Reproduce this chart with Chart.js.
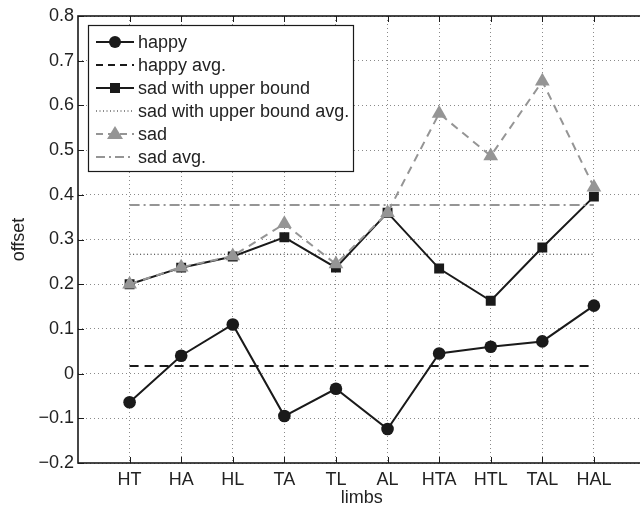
<!DOCTYPE html>
<html>
<head>
<meta charset="utf-8">
<script src="https://cdn.jsdelivr.net/npm/chart.js@4.4.1/dist/chart.umd.min.js"></script>
<style>
  html, body { margin: 0; padding: 0; background: #fff; overflow: hidden; width: 640px; height: 507px; }
  canvas { display: block; }
</style>
</head>
<body>
<canvas id="chart" width="660" height="507"></canvas>
<script>
// categories (x axis)
const limbs = ['HT', 'HA', 'HL', 'TA', 'TL', 'AL', 'HTA', 'HTL', 'TAL', 'HAL'];

// series
const happy = [-0.064, 0.040, 0.110, -0.095, -0.034, -0.124, 0.045, 0.060, 0.072, 0.152];
const sadUpper = [0.200, 0.237, 0.262, 0.305, 0.237, 0.360, 0.235, 0.163, 0.282, 0.396];
const sad = [0.200, 0.238, 0.263, 0.335, 0.245, 0.360, 0.582, 0.487, 0.654, 0.417];

// horizontal average lines
const happyAvg = 0.017;
const sadUpperAvg = 0.267;
const sadAvg = 0.377;

// y ticks
const yTicks = [-0.2, -0.1, 0, 0.1, 0.2, 0.3, 0.4, 0.5, 0.6, 0.7, 0.8];

const GRAY = '#959595';
const BLACK = '#1a1a1a';

const toPoints = arr => arr.map((v, i) => ({ x: i + 1, y: v }));
const avgLine = v => [{ x: 1, y: v }, { x: limbs.length, y: v }];

// legend entries (drawn by plugin below)
const legendItems = [
    { text: 'happy', color: BLACK, dash: [], width: 2, marker: 'circle' },
    { text: 'happy avg.', color: BLACK, dash: [7, 5], width: 2, marker: null },
    { text: 'sad with upper bound', color: BLACK, dash: [], width: 2, marker: 'rect' },
    { text: 'sad with upper bound avg.', color: BLACK, dash: [1, 2.5], width: 1, marker: null },
    { text: 'sad', color: GRAY, dash: [7, 5], width: 2, marker: 'triangle' },
    { text: 'sad avg.', color: GRAY, dash: [9, 4, 2, 4], width: 2, marker: null }
];

const fontFamily = '"Liberation Sans", Arial, Helvetica, sans-serif';
Chart.defaults.font.family = fontFamily;
Chart.defaults.font.size = 18;
Chart.defaults.color = '#222';

const framePlugin = {
    id: 'frame',
    afterDraw(chart) {
        const { ctx, chartArea: a, scales } = chart;
        ctx.save();
        // axis box
        ctx.strokeStyle = BLACK;
        ctx.lineWidth = 1.6;
        ctx.setLineDash([]);
        ctx.strokeRect(a.left, a.top, a.right - a.left, a.bottom - a.top);
        // inward ticks
        ctx.lineWidth = 1;
        for (let i = 1; i <= limbs.length; i++) {
            const x = Math.round(scales.x.getPixelForValue(i)) + 0.5;
            ctx.beginPath();
            ctx.moveTo(x, a.bottom); ctx.lineTo(x, a.bottom - 6);
            ctx.moveTo(x, a.top); ctx.lineTo(x, a.top + 6);
            ctx.stroke();
        }
        yTicks.forEach(v => {
            const y = Math.round(scales.y.getPixelForValue(v)) + 0.5;
            ctx.beginPath();
            ctx.moveTo(a.left, y); ctx.lineTo(a.left + 6, y);
            ctx.stroke();
        });

        // legend box
        const bx = 88, by = 25, bw = 265, bh = 146;
        ctx.fillStyle = '#fff';
        ctx.fillRect(bx, by, bw, bh);
        ctx.strokeStyle = BLACK;
        ctx.lineWidth = 1.2;
        ctx.strokeRect(bx + 0.5, by + 0.5, bw, bh);
        ctx.font = '18px ' + fontFamily;
        ctx.textBaseline = 'middle';
        ctx.textAlign = 'left';
        legendItems.forEach((it, i) => {
            const y = 42 + i * 23;
            ctx.strokeStyle = it.color;
            ctx.lineWidth = it.width;
            ctx.setLineDash(it.dash);
            ctx.beginPath();
            ctx.moveTo(96, y); ctx.lineTo(134, y);
            ctx.stroke();
            ctx.setLineDash([]);
            ctx.fillStyle = it.color;
            const mx = 115;
            if (it.marker === 'circle') {
                ctx.beginPath(); ctx.arc(mx, y, 6, 0, Math.PI * 2); ctx.fill();
            } else if (it.marker === 'rect') {
                ctx.fillRect(mx - 5, y - 5, 10, 10);
            } else if (it.marker === 'triangle') {
                ctx.beginPath();
                ctx.moveTo(mx, y - 8); ctx.lineTo(mx + 8, y + 5); ctx.lineTo(mx - 8, y + 5);
                ctx.closePath(); ctx.fill();
            }
            ctx.fillStyle = '#222';
            ctx.fillText(it.text, 138, y + 1);
        });
        ctx.restore();
    }
};

new Chart(document.getElementById('chart'), {
    type: 'line',
    data: {
        datasets: [
            {
                label: 'happy', data: toPoints(happy), order: 6,
                borderColor: BLACK, backgroundColor: BLACK, borderWidth: 2,
                pointStyle: 'circle', pointRadius: 6.3, pointBorderWidth: 0
            },
            {
                label: 'happy avg.', data: avgLine(happyAvg), order: 5,
                borderColor: BLACK, borderWidth: 2, borderDash: [9, 6], pointRadius: 0
            },
            {
                label: 'sad with upper bound', data: toPoints(sadUpper), order: 4,
                borderColor: BLACK, backgroundColor: BLACK, borderWidth: 2,
                pointStyle: 'rect', pointRadius: 7, pointBorderWidth: 0
            },
            {
                label: 'sad with upper bound avg.', data: avgLine(sadUpperAvg), order: 3,
                borderColor: BLACK, borderWidth: 1.2, borderDash: [1, 2.5], pointRadius: 0
            },
            {
                label: 'sad', data: toPoints(sad), order: 2,
                borderColor: GRAY, backgroundColor: GRAY, borderWidth: 2, borderDash: [8, 6],
                pointStyle: 'triangle', pointRadius: 8.5, pointBorderWidth: 0
            },
            {
                label: 'sad avg.', data: avgLine(sadAvg), order: 1,
                borderColor: GRAY, borderWidth: 2, borderDash: [10, 4, 2, 4], pointRadius: 0
            }
        ]
    },
    options: {
        responsive: false,
        animation: false,
        events: [],
        layout: { padding: { top: 16, right: 14.5, left: 0, bottom: 0 } },
        plugins: { legend: { display: false }, tooltip: { enabled: false } },
        scales: {
            x: {
                type: 'linear', min: 0, max: limbs.length + 1,
                afterFit: s => { s.height = 44; },
                afterBuildTicks: s => { s.ticks = limbs.map((_, i) => ({ value: i + 1 })); },
                ticks: { autoSkip: false, maxRotation: 0, padding: 6, color: '#222',
                         callback: v => limbs[v - 1] || '' },
                grid: { color: '#8a8a8a', lineWidth: 1, drawTicks: false },
                border: { display: false, dash: [1, 3] },
                title: { display: true, text: 'limbs', color: '#222', padding: { top: 0, bottom: -2 } }
            },
            y: {
                min: -0.2, max: 0.8,
                afterFit: s => { s.width = 78; },
                afterBuildTicks: s => { s.ticks = yTicks.map(v => ({ value: v })); },
                ticks: { padding: 4, color: '#222',
                         callback: v => Math.abs(v) < 1e-9 ? '0' : (v < 0 ? '\u2212' + (-v).toFixed(1) : v.toFixed(1)) },
                grid: { color: '#8a8a8a', lineWidth: 1, drawTicks: false },
                border: { display: false, dash: [1, 3] },
                title: { display: true, text: 'offset', color: '#222', padding: { top: 8, bottom: 0 } }
            }
        }
    },
    plugins: [framePlugin]
});
</script>
</body>
</html>
